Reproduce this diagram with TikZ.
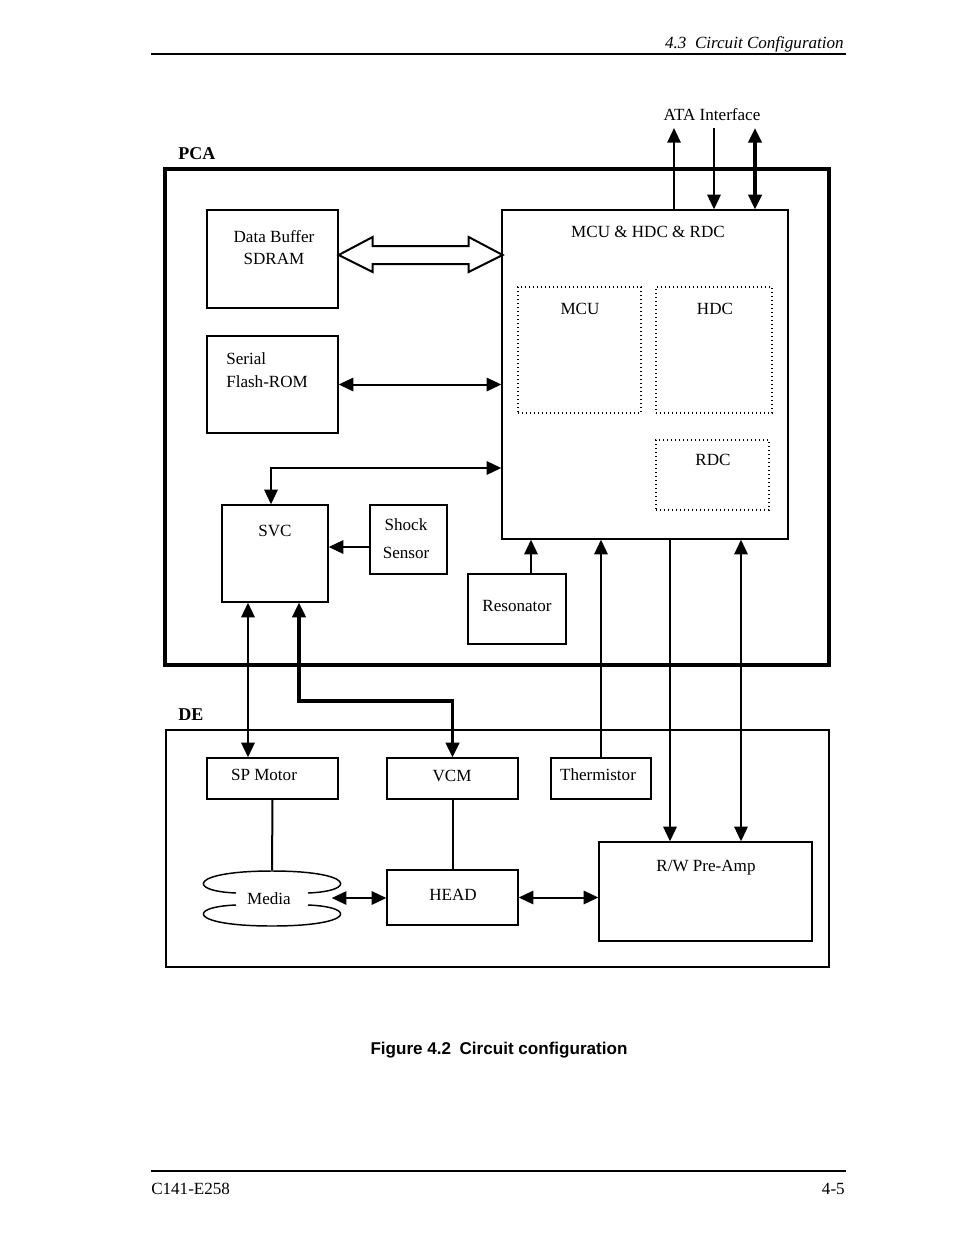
\documentclass[tikz,border=0pt]{standalone}
\usepackage{fontspec}
\setmainfont{Liberation Serif}
\newfontfamily\capfont{Liberation Sans}
\usetikzlibrary{arrows.meta}
\tikzset{
  blk/.style 2 args = {draw, line width=1pt, inner sep=0pt,
                minimum width=#1*0.75pt, minimum height=#2*0.75pt},
  dotblk/.style 2 args = {blk={#1}{#2}, dotted, line width=1.5pt},
  txt/.style = {anchor=base, inner sep=0pt, align=center},
  wire/.style = {line width=1.5pt},
  >={Triangle[length=11pt, width=10pt]}
}

\begin{document}
\begin{tikzpicture}[x=0.75pt, y=-0.75pt, font=\fontsize{12.8}{16.5}\selectfont]
	\useasboundingbox (0,0) rectangle (954,1235);

	% Header / footer
	\draw[line width=1pt] (151,54) -- (846,54);
	\node[anchor=base east, inner sep=0pt] (hdr) at (844,48) {\itshape 4.3\enspace Circuit Configuration};
	\draw[line width=1pt] (151,1171) -- (846,1171);
	\node[anchor=base west, inner sep=0pt] (docno) at (151,1194) {C141-E258};
	\node[anchor=base east, inner sep=0pt] (pageno) at (845,1194) {4-5};
	\node[txt] (cap) at (499,1054) {\capfont\bfseries Figure 4.2\enspace Circuit configuration};

	% Frames
	\node[blk={664}{496}, line width=2.4pt] (pca) at (497,417) {};
	\node[blk={663}{237}] (de) at (497.5,848.5) {};
	\node[anchor=base west, inner sep=0pt, font=\fontsize{13.5}{16}\selectfont\bfseries] (pca-t) at (178,159) {PCA};
	\node[anchor=base west, inner sep=0pt, font=\fontsize{13.5}{16}\selectfont\bfseries] (de-t) at (178,720) {DE};

	% PCA blocks (two-line labels sit on their last baseline)
	\node[blk={131}{98}] (dbuf) at (272.5,259) {};
	\node[txt] (dbuf-t) at (274,264) {Data Buffer\\SDRAM};
	\node[blk={131}{97}] (flash) at (272.5,384.5) {};
	\node[txt, anchor=base west, align=left] (flash-t) at (226,387) {Serial\\[0.75pt]Flash-ROM};
	\node[blk={286}{329}] (mcu) at (645,374.5) {};
	\node[txt] (mcu-t) at (648,237) {MCU \& HDC \& RDC};
	\node[dotblk={123}{126}] (mcuin) at (579.5,350) {};
	\node[txt] (mcuin-t) at (580,314) {MCU};
	\node[dotblk={116}{126}] (hdc) at (714,350) {};
	\node[txt] (hdc-t) at (715,314) {HDC};
	\node[dotblk={113}{70}] (rdc) at (712.5,475) {};
	\node[txt] (rdc-t) at (713,465) {RDC};
	\node[blk={106}{97}] (svc) at (275,553.5) {};
	\node[txt] (svc-t) at (275,536) {SVC};
	\node[blk={77}{69}] (shock) at (408.5,539.5) {};
	\node[txt] (shock-t) at (406,558) {Shock\\[4.5pt]Sensor};
	\node[blk={98}{70}] (reson) at (517,609) {};
	\node[txt] (reson-t) at (517,611) {Resonator};

	% DE blocks
	\node[blk={131}{41}] (spm) at (272.5,778.5) {};
	\node[txt] (spm-t) at (264,780) {SP Motor};
	\node[blk={131}{41}] (vcm) at (452.5,778.5) {};
	\node[txt] (vcm-t) at (452,781) {VCM};
	\node[blk={100}{41}] (therm) at (601,778.5) {};
	\node[txt] (therm-t) at (598,780) {Thermistor};
	\node[blk={213}{99}] (preamp) at (705.5,891.5) {};
	\node[txt] (preamp-t) at (706,871) {R/W Pre-Amp};
	\node[blk={131}{55}] (head) at (452.5,897.5) {};
	\node[txt] (head-t) at (453,900) {HEAD};
	\node[inner sep=0pt, minimum width=131*0.75pt, minimum height=55*0.75pt] (media) at (272,898) {};
	\node[txt] (media-t) at (269,904) {Media};

	% Media disk
	\draw[line width=1.1pt] (236,893) .. controls (186,891) and (190,871) .. (272,871)
		.. controls (354,871) and (358,891) .. (308,893);
	\draw[line width=1.1pt] (236,905) .. controls (186,907) and (190,926) .. (272,926)
		.. controls (354,926) and (358,907) .. (308,905);

	% ATA interface
	\node[txt] (ata) at (712,120) {ATA Interface};
	\coordinate (ata-out) at (674,128);
	\coordinate (ata-in) at (714,128);
	\coordinate (ata-bus) at (755,128);
	\draw[wire, ->] (mcu.north -| ata-out) -- (ata-out);
	\draw[wire, ->] (ata-in) -- (mcu.north -| ata-in);
	\draw[line width=2.4pt, <->] (ata-bus) -- (mcu.north -| ata-bus);

	% Bus buffer <-> MCU
	\draw[line width=1.5pt, line join=miter] (dbuf.east |- 0,255) -- ++(34,-18) -- ++(0,9) -- ++(96,0)
		-- ++(0,-9) -- ++(34,18) -- ++(-34,17) -- ++(0,-8) -- ++(-96,0) -- ++(0,8) -- cycle;

	% PCA connections
	\draw[wire, <->] (flash.east) -- (flash.east -| mcu.west);
	\draw[wire, <->] (svc.north -| 271,0) |- (mcu.west |- 0,468);
	\draw[wire, ->] (shock.west |- 0,547) -- (svc.east |- 0,547);
	\draw[wire, ->] (reson.north -| 531,0) -- (mcu.south -| 531,0);

	% PCA <-> DE
	\draw[wire, ->] (therm.north) -- (mcu.south -| therm.north);
	\draw[wire, ->] (mcu.south -| 670,0) -- (preamp.north -| 670,0);
	\draw[wire, <->] (mcu.south -| 741,0) -- (preamp.north -| 741,0);
	\draw[wire, <->] (svc.south -| 248,0) -- (spm.north -| 248,0);
	\draw[line width=2.4pt, <->] (svc.south -| 299,0) -- (299,701) -| (vcm.north);

	% DE connections
	\draw[wire] (spm.south) -- (media.north);
	\draw[wire] (vcm.south) -- (head.north);
	\draw[wire, <->] ([xshift=-6*0.75pt]media.east) -- (media.east -| head.west);
	\draw[wire, <->] (head.east) -- (head.east -| preamp.west);

\end{tikzpicture}
\end{document}
